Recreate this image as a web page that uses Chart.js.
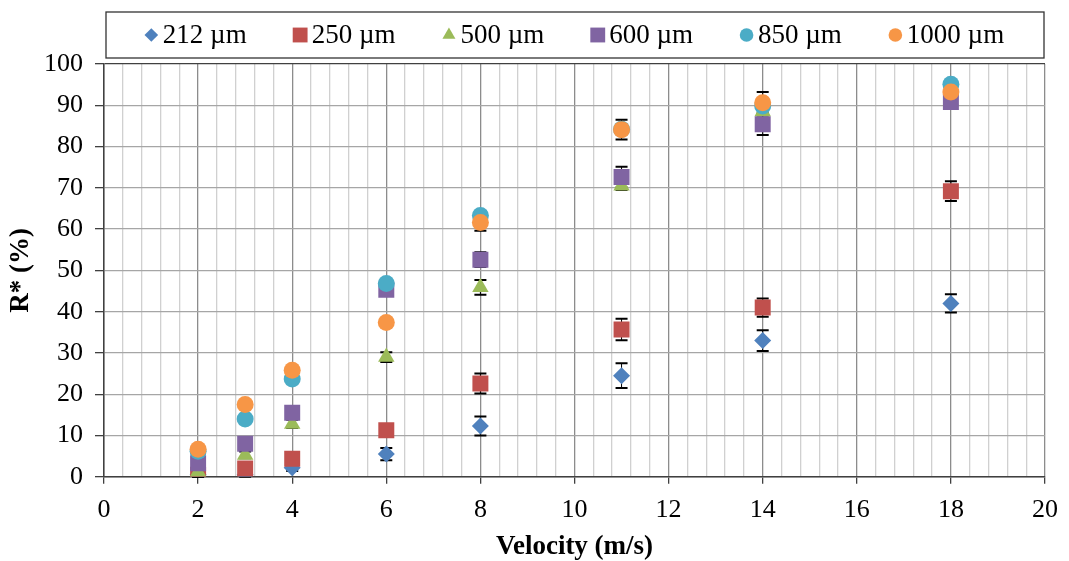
<!DOCTYPE html>
<html>
<head>
<meta charset="utf-8">
<script src="https://cdn.jsdelivr.net/npm/chart.js@4/dist/chart.umd.min.js"></script>
<style>
  html, body { margin: 0; padding: 0; background: #fff; overflow: hidden; }
  canvas { display: block; }
</style>
</head>
<body>
<canvas id="chart" width="1069" height="561"></canvas>
<script>
// velocities (m/s)
const velocity = [2, 3, 4, 6, 8, 11, 14, 18]

const seriesNames = ['212 µm', '250 µm', '500 µm', '600 µm', '850 µm', '1000 µm']

// R* (%) per particle size
const r212 = [0.5, 0.5, 2.2, 5.5, 12.3, 24.5, 33.0, 42.0]
const r250 = [0.5, 2.0, 4.4, 11.3, 22.6, 35.7, 41.0, 69.2]
const r500 = [1.2, 5.3, 12.8, 29.0, 45.9, 70.5, 88.5, 91.0]
const r600 = [3.3, 8.0, 15.5, 45.3, 52.6, 72.6, 85.4, 90.8]
const r850 = [6.2, 14.0, 23.7, 46.8, 63.3, 84.2, 89.8, 95.1]
const r1000 = [6.7, 17.5, 25.8, 37.4, 61.6, 84.1, 90.6, 93.2]

// error bar half-widths (%)
const e212 = [0.5, 0.5, 0.8, 1.5, 2.3, 3.0, 2.5, 2.2]
const e250 = [0.5, 1.4, 0.8, 0.8, 2.4, 2.6, 2.2, 2.4]
const e500 = [0.5, 0.8, 1.0, 1.2, 1.8, 1.0, 1.0, 1.0]
const e600 = [0.5, 0.8, 1.0, 0.8, 1.8, 2.5, 2.6, 1.5]
const e850 = [0.5, 0.8, 0.8, 0.8, 1.0, 1.0, 1.0, 1.0]
const e1000 = [0.8, 0.8, 0.8, 0.8, 2.0, 2.4, 2.6, 1.0]

const xTicks = [0, 2, 4, 6, 8, 10, 12, 14, 16, 18, 20]
const yTicks = [0, 10, 20, 30, 40, 50, 60, 70, 80, 90, 100]

const values = [r212, r250, r500, r600, r850, r1000]
const errors = [e212, e250, e500, e600, e850, e1000]
const colors = ['#4F81BD', '#C0504D', '#9BBB59', '#8064A2', '#4BACC6', '#F79646']
const shapes = ['rectRot', 'rect', 'triangle', 'rect', 'circle', 'circle']
const radii = [8.5, 11.3, 9.5, 11.3, 8.5, 8.5]
const legendRadii = [6.8, 10.5, 7.5, 10.5, 6.8, 6.8]

const FONT = "'Liberation Serif', 'Times New Roman', serif"

const isMajor = v => Math.abs(v / 2 - Math.round(v / 2)) < 1e-6

// error bars go under the markers, like in the original
const errorBars = {
  id: 'errorBars',
  beforeDatasetsDraw(chart) {
    const ctx = chart.ctx
    const xs = chart.scales.x, ys = chart.scales.y
    ctx.save()
    ctx.strokeStyle = '#000'
    errors.forEach((errs, i) => {
      errs.forEach((e, j) => {
        const px = xs.getPixelForValue(velocity[j])
        const top = ys.getPixelForValue(values[i][j] + e)
        const bot = ys.getPixelForValue(Math.max(0, values[i][j] - e))
        ctx.lineWidth = 1
        ctx.beginPath()
        ctx.moveTo(px, top); ctx.lineTo(px, bot)
        ctx.stroke()
        ctx.lineWidth = 2
        ctx.beginPath()
        ctx.moveTo(px - 6, top); ctx.lineTo(px + 6, top)
        ctx.moveTo(px - 6, bot); ctx.lineTo(px + 6, bot)
        ctx.stroke()
      })
    })
    ctx.restore()
  }
}

// boxed legend over the plot area, one row
const boxedLegend = {
  id: 'boxedLegend',
  afterDraw(chart) {
    const a = chart.chartArea
    const ctx = chart.ctx
    const top = 12, bottom = 58, mid = 35
    const markW = 13, textGap = 5, itemGap = 47
    ctx.save()
    ctx.strokeStyle = '#333'
    ctx.lineWidth = 1.3
    ctx.strokeRect(a.left + 2, top, a.right - a.left - 3, bottom - top)

    ctx.font = '27px ' + FONT
    ctx.textBaseline = 'middle'
    ctx.fillStyle = '#000'
    const widths = seriesNames.map(n => ctx.measureText(n).width)
    const total = widths.reduce((s, w) => s + markW + textGap + w, 0) + itemGap * (seriesNames.length - 1)
    let x = (a.left + a.right) / 2 - total / 2
    seriesNames.forEach((name, i) => {
      ctx.fillStyle = colors[i]
      Chart.helpers.drawPoint(ctx, {
        pointStyle: shapes[i],
        radius: legendRadii[i],
        borderWidth: 0,
        rotation: 0
      }, x + markW / 2, mid)
      ctx.fillStyle = '#000'
      ctx.fillText(name, x + markW + textGap, mid + 1)
      x += markW + textGap + widths[i] + itemGap
    })
    ctx.restore()
  }
}

new Chart(document.getElementById('chart'), {
  type: 'scatter',
  data: {
    datasets: seriesNames.map((name, i) => ({
      label: name,
      data: velocity.map((v, j) => ({ x: v, y: values[i][j] })),
      backgroundColor: colors[i],
      borderColor: colors[i],
      borderWidth: 0,
      pointStyle: shapes[i],
      pointRadius: radii[i],
      pointHoverRadius: radii[i],
      order: seriesNames.length - i
    }))
  },
  options: {
    responsive: false,
    animation: false,
    devicePixelRatio: 1,
    layout: { autoPadding: false, padding: { left: 5, right: 16, top: 64, bottom: 0 } },
    plugins: {
      tooltip: { enabled: false },
      legend: { display: false }
    },
    scales: {
      x: {
        type: 'linear',
        min: 0,
        max: 20,
        ticks: {
          stepSize: 0.4,
          autoSkip: false,
          maxRotation: 0,
          color: '#000',
          font: { family: FONT, size: 26 },
          padding: 11,
          callback: v => {
            const m = xTicks.find(t => Math.abs(t - v) < 1e-6)
            return m === undefined ? '' : String(m)
          }
        },
        grid: {
          color: c => isMajor(c.tick.value) ? '#8c8c8c' : '#d0d0d0',
          lineWidth: 1.3,
          tickColor: c => isMajor(c.tick.value) ? '#404040' : 'rgba(0,0,0,0)',
          tickLength: 7
        },
        border: { color: '#404040', width: 1.5 },
        title: {
          display: true,
          text: 'Velocity (m/s)',
          color: '#000',
          font: { family: FONT, size: 27, weight: 'bold', lineHeight: 1 },
          padding: { top: -3, bottom: 0 }
        }
      },
      y: {
        min: 0,
        max: 100,
        ticks: {
          stepSize: 10,
          autoSkip: false,
          color: '#000',
          font: { family: FONT, size: 26 },
          padding: 12,
          callback: v => yTicks.includes(v) ? String(v) : ''
        },
        grid: {
          color: c => c.tick.value === 100 ? '#404040' : '#a6a6a6',
          lineWidth: 1.3,
          tickColor: '#404040',
          tickLength: 9
        },
        border: { color: '#404040', width: 1.5 },
        title: {
          display: true,
          text: 'R* (%)',
          color: '#000',
          font: { family: FONT, size: 27, weight: 'bold', lineHeight: 1 },
          padding: { top: 3, bottom: -3 }
        }
      }
    }
  },
  plugins: [errorBars, boxedLegend]
})
</script>
</body>
</html>
